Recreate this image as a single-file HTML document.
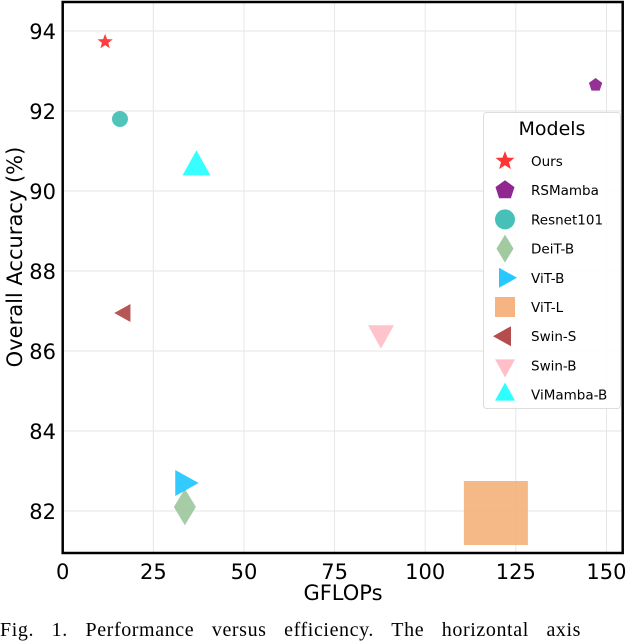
<!DOCTYPE html>
<html><head><meta charset="utf-8"><style>
body{margin:0;background:#fff;width:632px;height:628px;overflow:hidden;position:relative}
svg{position:absolute;left:0;top:0}
.cap{position:absolute;left:0;top:619px;width:700px;font-family:"Liberation Serif",serif;font-size:20px;white-space:nowrap;letter-spacing:0.6px;word-spacing:12px}
</style></head><body>
<svg id="chart" width="632" height="628"></svg>
<div class="cap">Fig. 1. Performance versus efficiency. The horizontal axis</div>
<script>
const models=["Ours","RSMamba","Resnet101","DeiT-B","ViT-B","ViT-L","Swin-S","Swin-B","ViMamba-B"];
const gflops=[11.7,147,15.8,33.7,33.2,119.5,17.2,87.8,36.9];
const accuracy=[93.73,92.65,91.8,82.1,82.7,81.95,86.95,86.45,90.6];
const sizes=[8,7,8,13,13,32,9,13,14];
const shapes=["star","pentagon","circle","diamond","right","square","left","down","up"];
const colors=["#ff2a2a","#8a1a8a","#3dbdb4","#9cc79c","#1cc4ff","#f4b07a","#b04444","#ffbcc6","#22ffff"];
const xTicks=[0,25,50,75,100,125,150];
const yTicks=[82,84,86,88,90,92,94];
const X0=62.7,XS=3.625,Y0=31,YS=40;
const xs=v=>X0+v*XS, ys=v=>Y0+(94-v)*YS;
const L=62.7,R=622.7,T=2,B=553;
const svg=document.getElementById('chart');const NS='http://www.w3.org/2000/svg';
function el(t,a,p){const e=document.createElementNS(NS,t);for(const k in a)e.setAttribute(k,a[k]);(p||svg).appendChild(e);return e;}
function shape(s,cx,cy,r,fill,op){
 if(s==='circle')return el('circle',{cx:cx,cy:cy,r:r,fill:fill,'fill-opacity':op});
 if(s==='square')return el('rect',{x:cx-r,y:cy-r,width:2*r,height:2*r,fill:fill,'fill-opacity':op});
 let pts=[];
 if(s==='star'){for(let i=0;i<10;i++){const a=-Math.PI/2+i*Math.PI/5,rr=i%2?r*0.42:r;pts.push([cx+rr*Math.cos(a),cy+rr*Math.sin(a)]);}}
 else if(s==='pentagon'){for(let i=0;i<5;i++){const a=-Math.PI/2+i*2*Math.PI/5;pts.push([cx+r*Math.cos(a),cy+r*Math.sin(a)]);}}
 else if(s==='diamond')pts=[[cx,cy-r*1.4],[cx+r*0.85,cy],[cx,cy+r*1.4],[cx-r*0.85,cy]];
 else if(s==='up')pts=[[cx,cy-r*1.2],[cx+r,cy+r*0.6],[cx-r,cy+r*0.6]];
 else if(s==='down')pts=[[cx,cy+r*1.2],[cx+r,cy-r*0.6],[cx-r,cy-r*0.6]];
 else if(s==='right')pts=[[cx+r*1.2,cy],[cx-r*0.6,cy-r],[cx-r*0.6,cy+r]];
 else if(s==='left')pts=[[cx-r*1.2,cy],[cx+r*0.6,cy-r],[cx+r*0.6,cy+r]];
 return el('polygon',{points:pts.map(p=>p.join(',')).join(' '),fill:fill,'fill-opacity':op});}
const F='"DejaVu Sans","Liberation Sans",sans-serif';
xTicks.forEach(v=>{
 const g=el('line',{x1:xs(v),x2:xs(v),y1:T,y2:B,stroke:'#e6e6e6','stroke-width':1});
 
 const t=el('text',{x:xs(v),y:579,'text-anchor':'middle','font-family':F,'font-size':21,fill:'#000'});t.textContent=v;
 });
yTicks.forEach(v=>{
 const g=el('line',{x1:L,x2:R,y1:ys(v),y2:ys(v),stroke:'#e6e6e6','stroke-width':1});
 
 const t=el('text',{x:56,y:ys(v)+8,'text-anchor':'end','font-family':F,'font-size':21,fill:'#000'});t.textContent=v;
 });
models.forEach((m,i)=>{const e=shape(shapes[i],xs(gflops[i]),ys(accuracy[i]),sizes[i],colors[i],0.9);
 });
const fr=el('rect',{x:L,y:T,width:R-L,height:B-T,fill:'none',stroke:'#000','stroke-width':2.5});

const xl=el('text',{x:343,y:600,'text-anchor':'middle','font-family':F,'font-size':21});xl.textContent='GFLOPs';

const yl=el('text',{x:0,y:0,transform:'translate(22,257) rotate(-90)','text-anchor':'middle','font-family':F,'font-size':21});yl.textContent='Overall Accuracy (%)';

const lg=el('g',{});
el('rect',{x:483.5,y:112.5,width:137,height:296,rx:3,fill:'#fff','fill-opacity':0.85,stroke:'#ddd'},lg);
const lt=el('text',{x:552,y:135,'text-anchor':'middle','font-family':F,'font-size':19},lg);lt.textContent='Models';
models.forEach((m,i)=>{const y=161+i*29.2;
 const mk=shape(shapes[i],505,y,10,colors[i],0.95);lg.appendChild(mk);
 
 const t=el('text',{x:531,y:y+5,'font-family':F,'font-size':13.5},lg);t.textContent=m;
 });
</script>
</body></html>
